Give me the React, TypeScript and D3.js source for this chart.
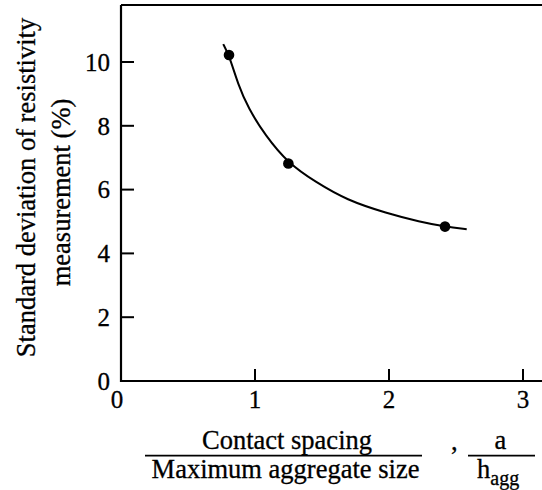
import React from "react";
import * as d3 from "d3";

const xTicks = [0, 1, 2, 3];
const yTicks = [0, 2, 4, 6, 8, 10];
const pointX = [0.806, 1.249, 2.418];
const pointY = [10.22, 6.82, 4.84];
const curveX = [0.763, 0.806, 0.875, 0.95, 1.075, 1.249, 1.448, 1.684, 1.983, 2.231, 2.418, 2.58];
const curveY = [10.56, 10.22, 9.28, 8.55, 7.71, 6.82, 6.25, 5.67, 5.26, 4.99, 4.84, 4.76];

const W = 542;
const H = 490;
const FONT = "Liberation Serif";
const lab: React.CSSProperties = { fontFamily: FONT, fontSize: 26.5, stroke: "#000", strokeWidth: 0.3 };
const tick: React.CSSProperties = { fontFamily: FONT, fontSize: 25, stroke: "#000", strokeWidth: 0.3 };

export default function App() {
  const x = d3.scaleLinear().domain([0, 3]).range([121, 523]);
  const y = d3.scaleLinear().domain([0, 10]).range([381, 62]);
  const line = d3
    .line<number>()
    .x((_, i) => x(curveX[i]))
    .y((d) => y(d))
    .curve(d3.curveBasis);
  const top = 5;
  return (
    <svg
      width={W}
      height={H}
      style={{ position: "absolute", left: 0, top: 0, background: "#fff" }}
    >
      <rect x={0} y={0} width={W} height={H} fill="#fff" />
      <path
        d={`M${x(0)},${top} L${x(0)},${y(0)} L${W + 5},${y(0)} M${x(0)},${top} L${W + 5},${top}`}
        stroke="#000"
        strokeWidth={2.2}
        fill="none"
      />
      {yTicks.map((t) => (
        <g key={"y" + t}>
          {t > 0 && (
            <line x1={x(0)} x2={x(0) + 13} y1={y(t)} y2={y(t)} stroke="#000" strokeWidth={2} />
          )}
          <text x={110} y={y(t)} dy="0.35em" textAnchor="end" style={tick} fill="#000">
            {t}
          </text>
        </g>
      ))}
      {xTicks.map((t) => (
        <g key={"x" + t}>
          {t > 0 && (
            <line x1={x(t)} x2={x(t)} y1={y(0)} y2={y(0) - 12} stroke="#000" strokeWidth={2} />
          )}
          <text x={t === 0 ? x(t) - 4 : x(t)} y={408} textAnchor="middle" style={tick} fill="#000">
            {t}
          </text>
        </g>
      ))}
      <path d={line(curveY) || ""} stroke="#000" strokeWidth={2} fill="none" />
      {pointX.map((px, i) => (
        <circle key={i} cx={x(px)} cy={y(pointY[i])} r={5.3} fill="#000" />
      ))}
      <text transform={`translate(35,187.5) rotate(-90)`} textAnchor="middle" style={lab} fill="#000">
        Standard deviation of resistivity
      </text>
      <text transform={`translate(70,192.5) rotate(-90)`} textAnchor="middle" style={lab} fill="#000">
        measurement (%)
      </text>
      <text x={287} y={449} textAnchor="middle" style={lab} fill="#000">
        Contact spacing
      </text>
      <line x1={145} x2={422} y1={455.7} y2={455.7} stroke="#000" strokeWidth={1.8} />
      <text x={285.5} y={478} textAnchor="middle" style={lab} fill="#000">
        Maximum aggregate size
      </text>
      <text x={451} y={450} style={lab} fill="#000">
        ,
      </text>
      <text x={500.5} y={449} textAnchor="middle" style={lab} fill="#000">
        a
      </text>
      <line x1={468} x2={535} y1={455.7} y2={455.7} stroke="#000" strokeWidth={1.8} />
      <text x={477} y={478} style={lab} fill="#000">
        h
        <tspan dy={7} style={{ fontSize: 20 }}>
          agg
        </tspan>
      </text>
    </svg>
  );
}
